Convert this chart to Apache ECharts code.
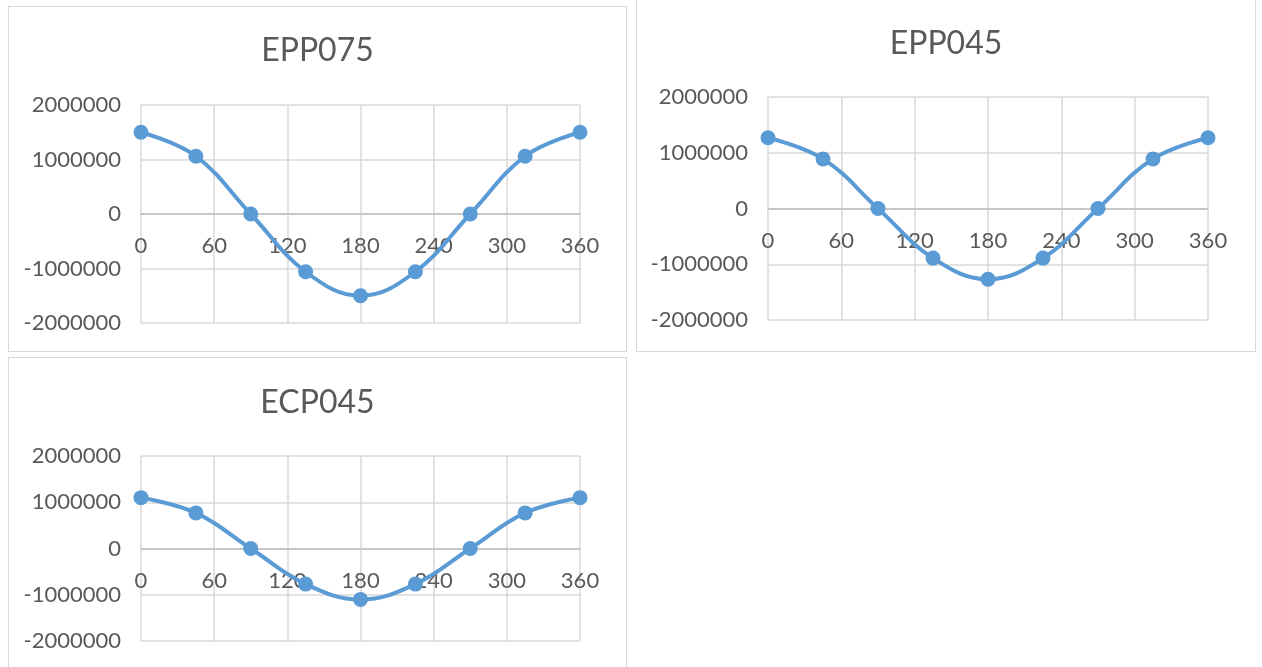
<!DOCTYPE html>
<html>
<head>
<meta charset="utf-8">
<script src="https://cdn.jsdelivr.net/npm/echarts@6/dist/echarts.min.js"></script>
<style>
  html, body { margin: 0; padding: 0; background: #fff; overflow: hidden; width: 1262px; height: 667px; }
  .panel { position: absolute; border: 1px solid #d9d9d9; box-sizing: border-box; background: #fff; }
</style>
</head>
<body>
<div class="panel" id="c1" style="left:8px;top:6px;width:619px;height:346px"></div>
<div class="panel" id="c2" style="left:636px;top:-1px;width:620px;height:353px"></div>
<div class="panel" id="c3" style="left:8px;top:357px;width:619px;height:346px"></div>
<script>
// angle positions (deg)
var angles = [0, 45, 90, 135, 180, 225, 270, 315, 360];
var xTicks = [0, 60, 120, 180, 240, 300, 360];
var yTicks = [-2000000, -1000000, 0, 1000000, 2000000];

var epp075 = [1500000, 1060000, 0, -1060000, -1500000, -1060000, 0, 1060000, 1500000];
var epp045 = [1270000, 890000, 0, -890000, -1270000, -890000, 0, 890000, 1270000];
var ecp045 = [1100000, 770000, 0, -770000, -1100000, -770000, 0, 770000, 1100000];

function lineinit(id, title, values, titleTop, grid) {
  var chartDom = document.getElementById(id);
  var myChart = echarts.init(chartDom);
  var option;
  // x axis sits on the zero line (middle of the symmetric y range)
  var plotH = chartDom.clientHeight - grid.top - grid.bottom;
  option = {
    animation: false,
    title: {
      text: title,
      left: 'center',
      top: titleTop,
      textStyle: { color: '#595959', fontFamily: 'Lato', fontSize: 32, fontWeight: 'normal' }
    },
    grid: grid,
    xAxis: {
      type: 'value',
      min: xTicks[0],
      max: xTicks[xTicks.length - 1],
      interval: 60,
      offset: -plotH / 2,
      axisLine: { show: true, onZero: false, lineStyle: { color: '#bfbfbf', width: 1.5 } },
      axisTick: { show: false },
      axisLabel: { color: '#595959', fontFamily: 'Lato', fontSize: 22, margin: 21 },
      splitLine: { show: true, lineStyle: { color: '#d9d9d9', width: 1.5 } }
    },
    yAxis: {
      type: 'value',
      min: yTicks[0],
      max: yTicks[yTicks.length - 1],
      interval: 1000000,
      axisLine: { show: false, onZero: false },
      axisTick: { show: false },
      axisLabel: {
        color: '#595959', fontFamily: 'Lato', fontSize: 22, margin: 20,
        formatter: function (v) { return String(v); }
      },
      splitLine: { show: true, lineStyle: { color: '#d9d9d9', width: 1.5 } }
    },
    series: [
      {
        type: 'line',
        smooth: 0.4,
        symbol: 'circle',
        symbolSize: 15,
        lineStyle: { color: '#5b9bd5', width: 4 },
        itemStyle: { color: '#5b9bd5' },
        data: angles.map(function (a, i) { return [a, values[i]]; })
      }
    ]
  };
  option && myChart.setOption(option);
}

lineinit('c1', 'EPP075', epp075, 23, { left: 132, right: 46, top: 98, bottom: 28 });
lineinit('c2', 'EPP045', epp045, 23, { left: 131, right: 47, top: 97, bottom: 31 });
lineinit('c3', 'ECP045', ecp045, 24, { left: 132, right: 46, top: 98, bottom: 61 });
</script>
</body>
</html>
